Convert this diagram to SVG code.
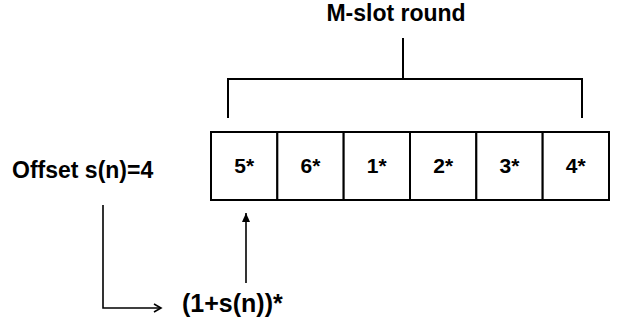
<svg xmlns="http://www.w3.org/2000/svg" width="621" height="324" viewBox="0 0 621 324">
<style>
.t{font-family:"Liberation Sans",Arial,sans-serif;font-weight:bold;fill:#000}
.cell{fill:#fff;stroke:#000;stroke-width:2}
.br{fill:none;stroke:#000;stroke-width:2}
.ar{fill:none;stroke:#000;stroke-width:1.6}
</style>
<defs>
<marker id="ah" markerWidth="10" markerHeight="10" refX="8" refY="5" orient="auto" markerUnits="userSpaceOnUse">
<path d="M1,1 L8,5 L1,9" fill="none" stroke="#000" stroke-width="1.6"/>
</marker>
<marker id="ahf" markerWidth="10" markerHeight="10" refX="9" refY="5" orient="auto" markerUnits="userSpaceOnUse">
<path d="M0,1 L9,5 L0,9 Z" fill="#000"/>
</marker>
</defs>
<rect width="621" height="324" fill="#fff"/>
<g id="title">
<text class="t" x="396" y="21" font-size="23" text-anchor="middle">M-slot round</text>
</g>
<g id="offset">
<text class="t" x="12" y="178" font-size="23">Offset s(n)=4</text>
</g>
<g id="slots">
<g id="slot1"><rect class="cell" x="211" y="132" width="66.33" height="68"/><text class="t" x="244.2" y="173" font-size="21" text-anchor="middle">5*</text></g>
<g id="slot2"><rect class="cell" x="277.33" y="132" width="66.33" height="68"/><text class="t" x="310.5" y="173" font-size="21" text-anchor="middle">6*</text></g>
<g id="slot3"><rect class="cell" x="343.67" y="132" width="66.33" height="68"/><text class="t" x="376.8" y="173" font-size="21" text-anchor="middle">1*</text></g>
<g id="slot4"><rect class="cell" x="410" y="132" width="66.33" height="68"/><text class="t" x="443.2" y="173" font-size="21" text-anchor="middle">2*</text></g>
<g id="slot5"><rect class="cell" x="476.33" y="132" width="66.33" height="68"/><text class="t" x="509.5" y="173" font-size="21" text-anchor="middle">3*</text></g>
<g id="slot6"><rect class="cell" x="542.67" y="132" width="66.33" height="68"/><text class="t" x="575.8" y="173" font-size="21" text-anchor="middle">4*</text></g>
</g>
<g id="formula">
<text class="t" x="182" y="312" font-size="25">(1+s(n))*</text>
</g>
<g id="connectors">
<path class="br" d="M403,38 V79 M228,118 V79 H582 V118"/>
<path class="ar" d="M103,205 V308 H161" marker-end="url(#ah)"/>
<path class="ar" d="M246,283 V213" marker-end="url(#ahf)"/>
</g>
</svg>
